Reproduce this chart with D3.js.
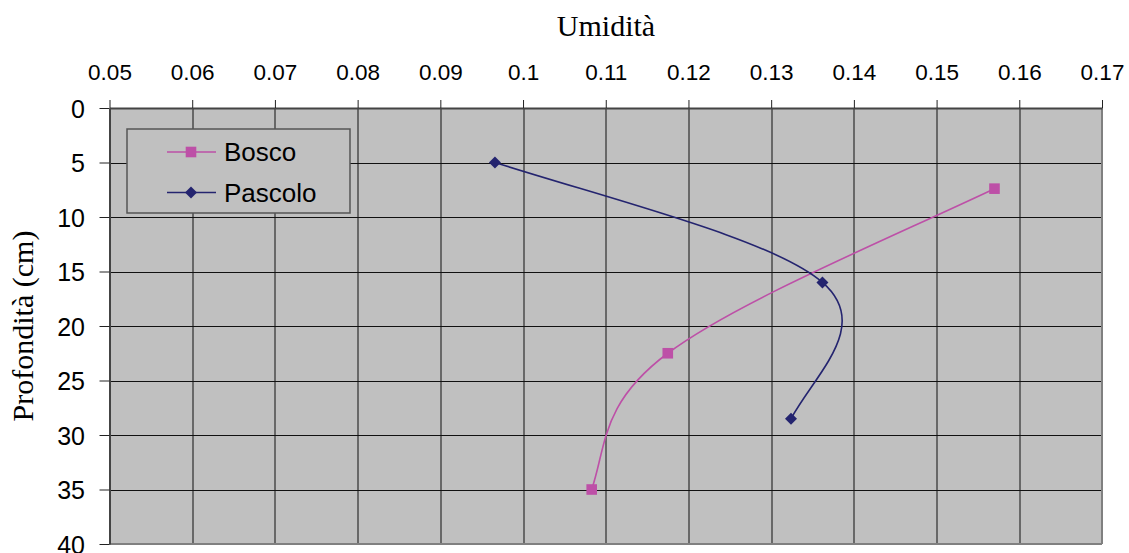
<!DOCTYPE html>
<html>
<head>
<meta charset="utf-8">
<script src="https://cdn.jsdelivr.net/npm/d3@7"></script>
<style>
  html, body { margin: 0; padding: 0; background: #ffffff; }
  svg { display: block; }
</style>
</head>
<body>
<svg id="chart" width="1129" height="553"></svg>
<script>
// Soil moisture profiles: moisture (x) versus depth in cm (y, increasing downward)
const boscoDepth = [7.4, 22.5, 35];
const boscoMoisture = [0.157, 0.1175, 0.1083];
const pascoloDepth = [5, 16, 28.5];
const pascoloMoisture = [0.0966, 0.1362, 0.1324];

const xTicks = [0.05, 0.06, 0.07, 0.08, 0.09, 0.1, 0.11, 0.12, 0.13, 0.14, 0.15, 0.16, 0.17];
const yTicks = [0, 5, 10, 15, 20, 25, 30, 35, 40];

const seriesNames = ["Bosco", "Pascolo"];
const seriesColors = ["#bd50a7", "#24246f"];

const margin = { left: 109.5, top: 108, right: 27, bottom: 9 };
const W = 1129, H = 553;
const pw = W - margin.left - margin.right;
const ph = H - margin.top - margin.bottom;

const svg = d3.select("#chart");
const g = svg.append("g").attr("transform", `translate(${margin.left},${margin.top})`);

const x = d3.scaleLinear().domain([0.05, 0.17]).range([0, pw]);
const y = d3.scaleLinear().domain([0, 40]).range([0, ph]);

// plot background
g.append("rect").attr("x", 0).attr("y", 0).attr("width", pw).attr("height", ph)
  .attr("fill", "#c0c0c0");

// grid
g.append("g").selectAll("line").data(xTicks.slice(1, -1)).join("line")
  .attr("x1", d => Math.round(x(d)) + 0.5).attr("x2", d => Math.round(x(d)) + 0.5)
  .attr("y1", 0).attr("y2", ph)
  .attr("stroke", "#111").attr("stroke-width", 1);
g.append("g").selectAll("line").data(yTicks.slice(1, -1)).join("line")
  .attr("y1", d => Math.round(y(d)) + 0.5).attr("y2", d => Math.round(y(d)) + 0.5)
  .attr("x1", 0).attr("x2", pw)
  .attr("stroke", "#111").attr("stroke-width", 1);

// plot border (right & bottom)
g.append("line").attr("x1", pw).attr("x2", pw).attr("y1", 0).attr("y2", ph)
  .attr("stroke", "#808080").attr("stroke-width", 2);
g.append("line").attr("x1", 0).attr("x2", pw).attr("y1", ph).attr("y2", ph)
  .attr("stroke", "#808080").attr("stroke-width", 2);

// top axis
const xAxis = d3.axisTop(x).tickValues(xTicks).tickSize(8).tickSizeOuter(0)
  .tickFormat(d => String(+d.toFixed(2)));
const gx = g.append("g").call(xAxis);
gx.select(".domain").attr("stroke", "#444").attr("stroke-width", 2);
gx.selectAll(".tick line").attr("stroke", "#222");
gx.selectAll(".tick text")
  .attr("font-family", "'Liberation Sans', Arial, sans-serif")
  .attr("font-size", 22.5).attr("fill", "#000").attr("y", -28).attr("dy", 0);

// left axis
const yAxis = d3.axisLeft(y).tickValues(yTicks).tickSize(10).tickSizeOuter(0)
  .tickFormat(d3.format("d"));
const gy = g.append("g").call(yAxis);
gy.select(".domain").attr("stroke", "#444").attr("stroke-width", 2);
gy.selectAll(".tick line").attr("stroke", "#222");
gy.selectAll(".tick text")
  .attr("font-family", "'Liberation Sans', Arial, sans-serif")
  .attr("font-size", 25).attr("fill", "#000").attr("x", -24.5).attr("dy", "0.36em");

// axis titles
svg.append("text").attr("x", 606).attr("y", 36).attr("text-anchor", "middle")
  .attr("font-family", "'Liberation Serif', 'Times New Roman', serif")
  .attr("font-size", 30).attr("fill", "#000").text("Umidità");
svg.append("text").attr("transform", "translate(33,326) rotate(-90)")
  .attr("text-anchor", "middle")
  .attr("font-family", "'Liberation Serif', 'Times New Roman', serif")
  .attr("font-size", 30).attr("fill", "#000").text("Profondità (cm)");

// series
const series = [
  { name: seriesNames[0], color: seriesColors[0], pts: boscoDepth.map((d, i) => [boscoMoisture[i], d]), shape: "square" },
  { name: seriesNames[1], color: seriesColors[1], pts: pascoloDepth.map((d, i) => [pascoloMoisture[i], d]), shape: "diamond" }
];

// Smoothed line through the scaled points: cubic Bezier segments with
// Catmull-Rom tangents inside and chord-based tangents at the two ends.
function smoothPath(data) {
  const p = data.map(d => [x(d[0]), y(d[1])]);
  const n = p.length;
  const T = p.map((pt, i) => {
    if (n < 2) return [0, 0];
    if (i > 0 && i < n - 1) {
      return [(p[i + 1][0] - p[i - 1][0]) / 2, (p[i + 1][1] - p[i - 1][1]) / 2];
    }
    return null;
  });
  if (n > 2) {
    const c0 = [p[1][0] - p[0][0], p[1][1] - p[0][1]];
    T[0] = [1.25 * c0[0] - 0.25 * T[1][0], 1.25 * c0[1] - 0.25 * T[1][1]];
    const cn = [p[n - 1][0] - p[n - 2][0], p[n - 1][1] - p[n - 2][1]];
    T[n - 1] = [1.25 * cn[0] - 0.25 * T[n - 2][0], 1.25 * cn[1] - 0.25 * T[n - 2][1]];
  } else if (n === 2) {
    const c = [p[1][0] - p[0][0], p[1][1] - p[0][1]];
    T[0] = c; T[1] = c;
  }
  const path = d3.path();
  path.moveTo(p[0][0], p[0][1]);
  for (let i = 0; i < n - 1; i++) {
    path.bezierCurveTo(
      p[i][0] + T[i][0] / 3, p[i][1] + T[i][1] / 3,
      p[i + 1][0] - T[i + 1][0] / 3, p[i + 1][1] - T[i + 1][1] / 3,
      p[i + 1][0], p[i + 1][1]);
  }
  return path.toString();
}

function marker(sel, shape, color) {
  if (shape === "square") {
    sel.append("rect").attr("x", -5.3).attr("y", -5.3).attr("width", 10.6).attr("height", 10.6)
      .attr("fill", color);
  } else {
    sel.append("path").attr("d", "M0,-6L6,0L0,6L-6,0Z").attr("fill", color);
  }
}

series.forEach(s => {
  g.append("path").attr("d", smoothPath(s.pts))
    .attr("fill", "none").attr("stroke", s.color).attr("stroke-width", 1.6);
  g.append("g").selectAll("g").data(s.pts).join("g")
    .attr("transform", d => `translate(${x(d[0])},${y(d[1])})`)
    .each(function () { marker(d3.select(this), s.shape, s.color); });
});

// legend
const lg = svg.append("g").attr("transform", "translate(127,129)");
lg.append("rect").attr("x", 0).attr("y", 0).attr("width", 223).attr("height", 84)
  .attr("fill", "#c0c0c0").attr("stroke", "#555").attr("stroke-width", 1.5);
series.forEach((s, i) => {
  const yy = 23 + i * 40.5;
  lg.append("line").attr("x1", 40).attr("x2", 89).attr("y1", yy).attr("y2", yy)
    .attr("stroke", s.color).attr("stroke-width", 1.6);
  const m = lg.append("g").attr("transform", `translate(64,${yy})`);
  marker(m, s.shape, s.color);
  lg.append("text").attr("x", 97).attr("y", yy).attr("dy", "0.36em")
    .attr("font-family", "'Liberation Sans', Arial, sans-serif")
    .attr("font-size", 26).attr("fill", "#000").text(s.name);
});
</script>
</body>
</html>
